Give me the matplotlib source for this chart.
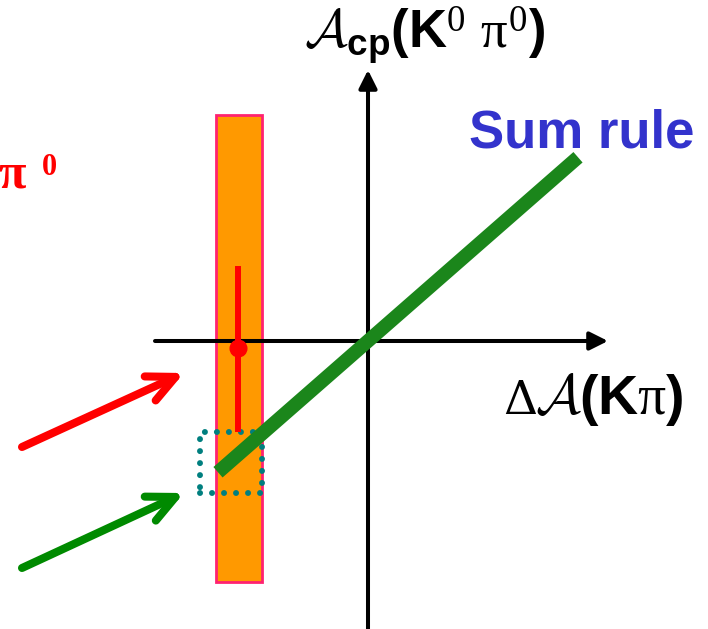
import matplotlib
matplotlib.use("Agg")
import matplotlib.pyplot as plt
from matplotlib.patches import Rectangle

plt.rcParams['mathtext.fontset'] = 'custom'
plt.rcParams['mathtext.rm'] = 'Liberation Sans:bold'
plt.rcParams['mathtext.bf'] = 'Liberation Sans:bold'
plt.rcParams['mathtext.it'] = 'Liberation Serif'
plt.rcParams['mathtext.sf'] = 'Liberation Serif'
plt.rcParams['mathtext.cal'] = 'cmsy10'

# --- schematic values (arbitrary units, origin at the axis crossing) ---
band_x = [-1.52, -1.06]          # allowed DeltaA(K pi) region
band_y = [-2.41, 2.26]
meas_x = -1.30                   # measured point
meas_y = -0.07
meas_err_lo = 0.84
meas_err_hi = 0.82
sum_rule_x = [-1.50, 2.10]       # sum-rule prediction line
sum_rule_slope = 0.875
box_x = [-1.68, -1.06]           # predicted region box
box_y = [-1.52, -0.91]
red_arrow = [(-3.46, -1.06), (-1.84, -0.32)]
green_arrow = [(-3.46, -2.27), (-1.84, -1.52)]
x_axis = [-2.13, 2.40]
y_axis = [-2.88, 2.71]

fig = plt.figure(figsize=(7.08, 6.29), dpi=100)
ax = fig.add_axes([0, 0, 1, 1])
ax.set_xlim(-3.68, 3.40)
ax.set_ylim(-2.88, 3.41)
ax.axis('off')

# orange band
ax.add_patch(Rectangle((band_x[0], band_y[0]), band_x[1] - band_x[0], band_y[1] - band_y[0],
                       facecolor='#ff9900', edgecolor='#ff2270', lw=2, zorder=1))

# axes with arrow heads
ax.annotate('', xy=(x_axis[1], 0), xytext=(x_axis[0], 0),
            arrowprops=dict(arrowstyle='-|>,head_length=1.1,head_width=0.55', lw=2.9,
                            color='black', shrinkA=0, shrinkB=0), zorder=2)
ax.annotate('', xy=(0, y_axis[1]), xytext=(0, y_axis[0]),
            arrowprops=dict(arrowstyle='-|>,head_length=1.1,head_width=0.55', lw=2.9,
                            color='black', shrinkA=0, shrinkB=0), zorder=2)

# dotted prediction box
ax.add_patch(Rectangle((box_x[0], box_y[0]), box_x[1] - box_x[0], box_y[1] - box_y[0],
                       fill=False, edgecolor='#007f7f', lw=4.3,
                       linestyle=(0, (0.01, 2.0)), capstyle='round', zorder=3))

# measurement
ax.errorbar([meas_x], [meas_y], yerr=[[meas_err_lo], [meas_err_hi]], fmt='o',
            color='red', ms=12, elinewidth=4.3, capsize=0, zorder=4)

# sum-rule line
ys = [sum_rule_slope * x for x in sum_rule_x]
ax.plot(sum_rule_x, ys, color='#1b861b', lw=10, solid_capstyle='butt', zorder=5)

# pointer arrows
for (tail, tip), col in [(red_arrow, 'red'), (green_arrow, '#008a00')]:
    ax.annotate('', xy=tip, xytext=tail,
                arrowprops=dict(arrowstyle='->,head_length=2.0,head_width=0.95', lw=5.8,
                                color=col, capstyle='round', joinstyle='round',
                                shrinkA=0, shrinkB=0), zorder=5)

# labels
ax.text(2.14, 1.94, 'Sum rule', color='#3333cc', fontsize=38, fontweight='bold',
        family='Liberation Sans', ha='center', va='baseline')
ax.text(1.35, -0.73, 'Δ', fontsize=34, family='DejaVu Serif',
        ha='left', va='baseline')
ax.text(1.67, -0.73, r'$\mathcal{A}\mathrm{(K}\pi\mathrm{)}$', fontsize=40,
        ha='left', va='baseline')
ax.text(0.57, 3.06, r'$\mathcal{A}_{\mathrm{cp}}\mathrm{(K}^{\mathsf{0}}\ \pi^{\mathsf{0}}\mathrm{)}$',
        fontsize=38, ha='center', va='center')
ax.text(-3.42, 1.53, 'π', color='red', fontsize=36, fontweight='bold',
        family='Liberation Serif', ha='right', va='baseline')
ax.text(-3.26, 1.66, '0', color='red', fontsize=22, fontweight='bold',
        family='Liberation Serif', ha='left', va='baseline')

fig.savefig('out.png', dpi=100)
